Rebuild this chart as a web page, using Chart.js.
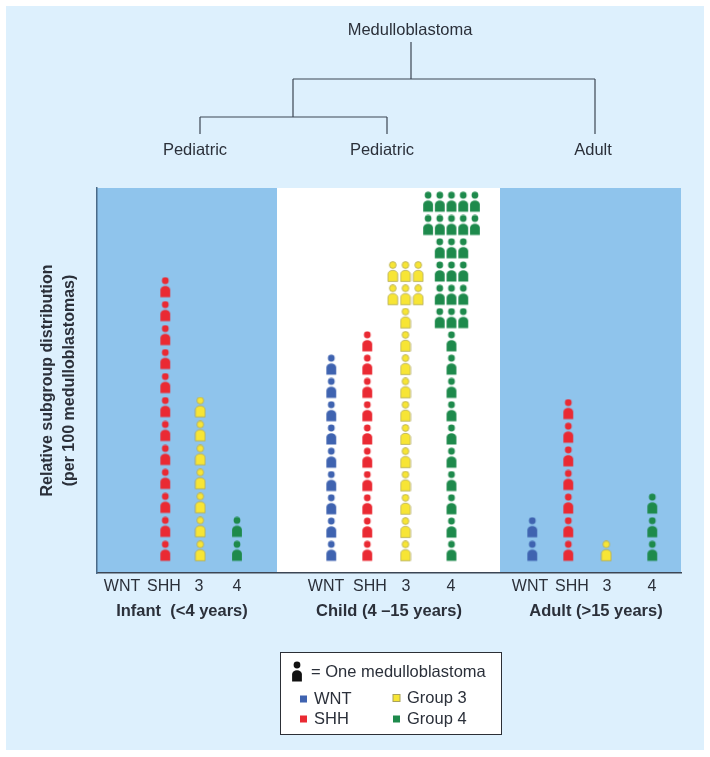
<!DOCTYPE html>
<html>
<head>
<meta charset="utf-8">
<script src="https://cdn.jsdelivr.net/npm/chart.js@4"></script>
<style>
    html, body { margin: 0; padding: 0; background: #fff; }
    canvas { display: block; }
</style>
</head>
<body>
<canvas id="chart" width="710" height="757"></canvas>
<script>
// Number of medulloblastomas per subgroup, one value per age group
const stages = ['Infant  (<4 years)', 'Child (4 –15 years)', 'Adult (>15 years)'];
const wntCounts = [0, 9, 2];
const shhCounts = [12, 10, 7];
const group3Counts = [7, 17, 1];
const group4Counts = [2, 32, 3];
const tickLabels = ['WNT', 'SHH', '3', '4', 'WNT', 'SHH', '3', '4', 'WNT', 'SHH', '3', '4'];
const treeLabels = ['Pediatric', 'Pediatric', 'Adult'];

// Layout, in x axis units
const tickX = [25, 67, 102, 140, 229, 273, 309, 354, 433, 475, 510, 555];
const wntX = [27, 234.3, 435.3];
const shhX = [68.3, 270.3, 471.3];
const group3X = [103.3, 308.5, 509.3];
const group4X = [140, 354.5, 555.3];
const panelEdges = [0, 180, 403, 584];
const rowPitch = [1.03, 1, 1.015];
const firstRow = 0.93;

const textColor = '#2b303a';
const lineColor = '#3c4654';
const panelColor = '#8fc4ec';
const pageColor = '#ddf0fd';

function personSprite(fill, stroke) {
    const c = document.createElement('canvas');
    c.width = 12;
    c.height = 22;
    const g = c.getContext('2d');
    g.fillStyle = fill;
    g.strokeStyle = stroke;
    g.lineWidth = 0.7;
    g.beginPath();
    g.arc(6, 4, 3.4, 0, Math.PI * 2);
    g.fill();
    if (stroke) g.stroke();
    g.beginPath();
    g.moveTo(1.1, 20.4);
    g.lineTo(1.1, 13);
    g.ellipse(6, 13, 4.9, 3.7, 0, Math.PI, 0);
    g.lineTo(10.9, 20.4);
    g.closePath();
    g.fill();
    if (stroke) g.stroke();
    return c;
}

// rules: from which row on the figures spread out sideways
function stackFigures(counts, columnX, rules) {
    const points = [];
    counts.forEach((count, s) => {
        let left = count;
        let row = 0;
        while (left > 0) {
            const rule = (rules[s] || []).filter(r => row >= r.fromRow).pop() || { perRow: 1, gap: 0 };
            const n = Math.min(left, rule.perRow);
            for (let c = 0; c < n; c++) {
                points.push({
                    x: columnX[s] + (c - (n - 1) / 2) * rule.gap,
                    y: firstRow + row * rowPitch[s]
                });
            }
            left -= n;
            row++;
        }
    });
    return points;
}

const subgroups = [
    { label: 'WNT', color: '#3f63b0', stroke: null, legendName: 'WNT', points: stackFigures(wntCounts, wntX, []) },
    { label: 'SHH', color: '#ea2a33', stroke: null, legendName: 'SHH', points: stackFigures(shhCounts, shhX, []) },
    { label: 'Group 3', color: '#f7e535', stroke: '#a9a25c', legendName: 'Group 3',
      points: stackFigures(group3Counts, group3X, [[], [{ fromRow: 11, perRow: 3, gap: 12.7 }], []]) },
    { label: 'Group 4', color: '#1e8a4c', stroke: null, legendName: 'Group 4',
      points: stackFigures(group4Counts, group4X, [[], [{ fromRow: 10, perRow: 3, gap: 11.8 }, { fromRow: 14, perRow: 5, gap: 11.7 }], []]) }
];

const backdrop = {
    id: 'backdrop',
    beforeDraw(chart) {
        const { ctx, chartArea, scales: { x } } = chart;
        ctx.save();
        ctx.fillStyle = pageColor;
        ctx.fillRect(6, 6, 698, 744);
        ctx.fillStyle = '#ffffff';
        ctx.fillRect(chartArea.left, chartArea.top, chartArea.width, chartArea.height);
        ctx.fillStyle = panelColor;
        [[panelEdges[0], panelEdges[1]], [panelEdges[2], panelEdges[3]]].forEach(([a, b]) => {
            const x0 = x.getPixelForValue(a);
            ctx.fillRect(x0, chartArea.top, x.getPixelForValue(b) - x0, chartArea.height);
        });
        ctx.restore();
    }
};

const annotations = {
    id: 'annotations',
    afterDraw(chart) {
        const { ctx } = chart;
        ctx.save();

        // tree at the top
        ctx.strokeStyle = lineColor;
        ctx.lineWidth = 1.2;
        ctx.beginPath();
        ctx.moveTo(411, 42); ctx.lineTo(411, 79);
        ctx.moveTo(293, 79); ctx.lineTo(595, 79);
        ctx.moveTo(595, 79); ctx.lineTo(595, 134);
        ctx.moveTo(293, 79); ctx.lineTo(293, 117);
        ctx.moveTo(200, 117); ctx.lineTo(387, 117);
        ctx.moveTo(200, 117); ctx.lineTo(200, 134);
        ctx.moveTo(387, 117); ctx.lineTo(387, 134);
        ctx.stroke();

        ctx.fillStyle = textColor;
        ctx.textBaseline = 'middle';
        ctx.textAlign = 'center';
        ctx.font = '16.5px "Liberation Sans", Arial, sans-serif';
        ctx.fillText('Medulloblastoma', 410, 30);
        [195, 382, 593].forEach((px, i) => ctx.fillText(treeLabels[i], px, 150));

        // age groups below the axis
        ctx.font = 'bold 16.5px "Liberation Sans", Arial, sans-serif';
        [182, 389, 596].forEach((px, i) => ctx.fillText(stages[i], px, 611));

        // key
        ctx.fillStyle = '#ffffff';
        ctx.fillRect(280.5, 652.5, 221, 82);
        ctx.strokeStyle = '#2c2f36';
        ctx.lineWidth = 1;
        ctx.strokeRect(280.5, 652.5, 221, 82);
        ctx.drawImage(personSprite('#111111', null), 291, 661);
        ctx.textAlign = 'left';
        ctx.fillStyle = textColor;
        ctx.font = '16.5px "Liberation Sans", Arial, sans-serif';
        ctx.fillText('= One medulloblastoma', 311, 672);
        const keyPos = [[300, 314, 699], [300, 314, 719], [393, 407, 698], [393, 407, 719]];
        subgroups.forEach((g, i) => {
            const [sx, tx, ty] = keyPos[i];
            ctx.fillStyle = g.color;
            ctx.fillRect(sx, ty - 3.5, 7, 7);
            if (g.stroke) {
                ctx.strokeStyle = g.stroke;
                ctx.strokeRect(sx, ty - 3.5, 7, 7);
            }
            ctx.fillStyle = textColor;
            ctx.fillText(g.legendName, tx, ty);
        });
        ctx.restore();
    }
};

new Chart(document.getElementById('chart').getContext('2d'), {
    type: 'scatter',
    data: {
        datasets: subgroups.map(g => ({
            label: g.label,
            data: g.points,
            pointStyle: personSprite(g.color, g.stroke),
            pointRadius: 8,
            backgroundColor: g.color
        }))
    },
    options: {
        responsive: false,
        animation: false,
        layout: { padding: { top: 188, right: 29, left: 0, bottom: 0 } },
        plugins: {
            legend: { display: false },
            tooltip: { enabled: false }
        },
        scales: {
            x: {
                type: 'linear',
                min: panelEdges[0],
                max: panelEdges[3],
                grid: { display: false, drawTicks: false },
                border: { display: true, color: lineColor, width: 1.5 },
                afterBuildTicks(scale) {
                    scale.ticks = tickX.map(v => ({ value: v }));
                },
                afterFit(scale) {
                    scale.height = 184;
                },
                ticks: {
                    autoSkip: false,
                    maxRotation: 0,
                    padding: 4,
                    color: textColor,
                    font: { family: '"Liberation Sans", Arial, sans-serif', size: 16 },
                    callback: (value, i) => tickLabels[i]
                }
            },
            y: {
                type: 'linear',
                min: 0,
                max: 16.54,
                grid: { display: false, drawTicks: false },
                border: { display: true, color: '#4a6a88', width: 1.5 },
                ticks: { display: false },
                afterFit(scale) {
                    scale.width = 97;
                },
                title: {
                    display: true,
                    text: ['Relative subgroup distribution', '(per 100 medulloblastomas)'],
                    color: textColor,
                    padding: { top: 37, bottom: 0 },
                    font: { family: '"Liberation Sans", Arial, sans-serif', size: 16, weight: 'bold', lineHeight: 1.35 }
                }
            }
        }
    },
    plugins: [backdrop, annotations]
});
</script>
</body>
</html>
